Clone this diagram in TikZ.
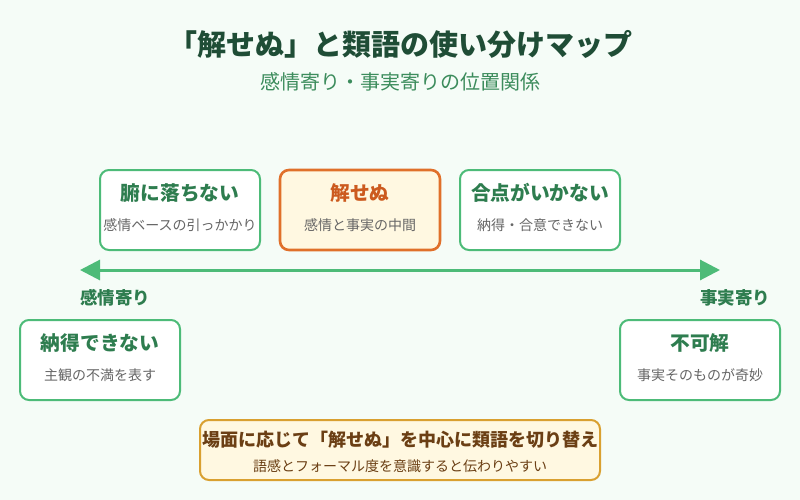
\documentclass[tikz,border=0pt]{standalone}
\usepackage{fontspec}
\setmainfont{Noto Sans CJK JP}
\usetikzlibrary{arrows.meta}
\definecolor{bg}{HTML}{F5FCF7}
\definecolor{titlegreen}{HTML}{1F4D36}
\definecolor{subgreen}{HTML}{3C8C5C}
\definecolor{boxgreen}{HTML}{4DBB78}
\definecolor{txtgreen}{HTML}{2E7D4F}
\definecolor{graytxt}{HTML}{666666}
\definecolor{orangeline}{HTML}{E0702A}
\definecolor{orangetxt}{HTML}{CC5A1E}
\definecolor{creamfill}{HTML}{FFF8E1}
\definecolor{goldline}{HTML}{D9A030}
\definecolor{browntxt}{HTML}{6B3F14}
\tikzset{
  termbox/.style={draw=boxgreen, line width=2pt, fill=white, rounded corners=9pt, minimum width=160pt, minimum height=80pt},
  keybox/.style={draw=orangeline, line width=2.6pt, fill=creamfill, rounded corners=9pt, minimum width=160pt, minimum height=80pt},
  notebox/.style={draw=goldline, line width=2pt, fill=creamfill, rounded corners=9pt, minimum width=400pt, minimum height=60pt},
  termtitle/.style={font=\fontsize{19.7}{22}\selectfont\bfseries, text=txtgreen},
  termsub/.style={font=\fontsize{14}{16}\selectfont, text=graytxt},
  sidelabel/.style={font=\fontsize{17.5}{19}\selectfont\bfseries, text=txtgreen}
}
\begin{document}
\begin{tikzpicture}[x=1pt,y=-1pt]
\fill[bg] (0,0) rectangle (800,500);
\useasboundingbox (0,0) rectangle (800,500);
% title
\node[font=\fontsize{29}{32}\selectfont\bfseries, text=titlegreen] (title) at (400,44) {「解せぬ」と類語の使い分けマップ};
\node[font=\fontsize{20}{22}\selectfont, text=subgreen] (subtitle) at (400,82) {感情寄り・事実寄りの位置関係};
% axis
\coordinate (axL) at (80,270);
\coordinate (axR) at (720,270);
\draw[boxgreen, line width=3pt, {Triangle[length=20pt,width=20pt]}-{Triangle[length=20pt,width=20pt]}] (axL) -- (axR);
\node[sidelabel] (lemo) at (115,298) {感情寄り};
\node[sidelabel] (lfact) at (735,298) {事実寄り};
% top boxes
\node[termbox] (b1) at (180,210) {};
\node[termtitle] (b1t) at (180,193) {腑に落ちない};
\node[termsub] (b1s) at (180,225) {感情ベースの引っかかり};
\node[keybox] (b2) at (360,210) {};
\node[termtitle, text=orangetxt] (b2t) at (360,193) {解せぬ};
\node[termsub] (b2s) at (360,225) {感情と事実の中間};
\node[termbox] (b3) at (540,210) {};
\node[termtitle] (b3t) at (540,193) {合点がいかない};
\node[termsub] (b3s) at (540,225) {納得・合意できない};
% lower boxes
\node[termbox] (b4) at (100,360) {};
\node[termtitle] (b4t) at (100,343) {納得できない};
\node[termsub] (b4s) at (100,375) {主観の不満を表す};
\node[termbox] (b5) at (700,360) {};
\node[termtitle] (b5t) at (700,343) {不可解};
\node[termsub] (b5s) at (700,375) {事実そのものが奇妙};
% note
\node[notebox] (note) at (400,450) {};
\node[font=\fontsize{18}{20}\selectfont\bfseries, text=browntxt] (notet) at (400,440) {場面に応じて「解せぬ」を中心に類語を切り替え};
\node[font=\fontsize{14}{16}\selectfont, text=browntxt] (notes) at (400,466) {語感とフォーマル度を意識すると伝わりやすい};
\end{tikzpicture}
\end{document}
